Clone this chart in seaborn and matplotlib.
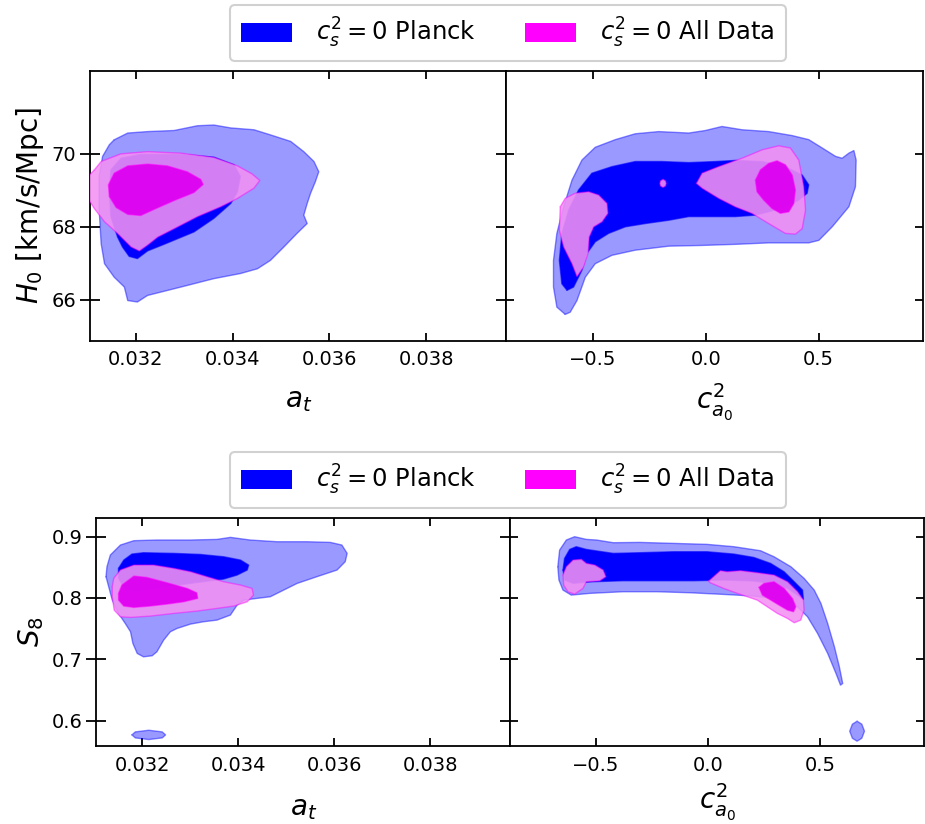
import numpy as np
import matplotlib
matplotlib.use("Agg")
import matplotlib.pyplot as plt
import seaborn as sns
from matplotlib.patches import Patch

sns.set_theme(style="white")
plt.rcParams['font.family'] = ['DejaVu Sans']
plt.rcParams['mathtext.fontset'] = 'dejavusans'
for k in ('text.color', 'axes.labelcolor', 'xtick.color', 'ytick.color', 'axes.edgecolor'):
    plt.rcParams[k] = 'black'

series_labels = [r'$c_s^2=0$ Planck', r'$c_s^2=0$ All Data']
x_labels = [r'$a_t$', r'$c^2_{a_0}$']
y_labels = [r'$H_0$ [km/s/Mpc]', r'$S_8$']
at_ticks = [0.032, 0.034, 0.036, 0.038]
ca_ticks = [-0.5, 0.0, 0.5]
h0_ticks = [66, 68, 70]
s8_ticks = [0.6, 0.7, 0.8, 0.9]

# ---- contour boundaries (x, y) ----
# H0 vs a_t
h0_at_planck_95 = [(0.03155, 70.385), (0.03183, 70.57), (0.03224, 70.61), (0.03279, 70.64), (0.03327, 70.77),
                   (0.03361, 70.79), (0.03396, 70.71), (0.03444, 70.66), (0.03478, 70.52), (0.03520, 70.34),
                   (0.03547, 70.06), (0.03568, 69.79), (0.03578, 69.51), (0.03571, 69.24), (0.03561, 68.92),
                   (0.03554, 68.64), (0.03547, 68.32), (0.03554, 68.09), (0.03533, 67.82), (0.03506, 67.45),
                   (0.03478, 67.08), (0.03451, 66.85), (0.03416, 66.72), (0.03361, 66.58), (0.03293, 66.35),
                   (0.03224, 66.12), (0.03203, 65.94), (0.03183, 65.98), (0.03176, 66.35), (0.03155, 66.62),
                   (0.03135, 66.99), (0.03128, 67.54), (0.03124, 68.46), (0.03124, 69.38), (0.03131, 69.93),
                   (0.03145, 70.25)]
h0_at_planck_68 = [(0.03162, 67.72), (0.03148, 68.28), (0.03145, 68.92), (0.03148, 69.56), (0.03169, 69.88),
                   (0.03210, 69.99), (0.03293, 69.99), (0.03361, 69.91), (0.03403, 69.70), (0.03416, 69.38),
                   (0.03410, 68.96), (0.03396, 68.64), (0.03361, 68.23), (0.03320, 67.86), (0.03258, 67.52),
                   (0.03224, 67.34), (0.03203, 67.13), (0.03186, 67.19), (0.03172, 67.45)]
h0_at_all_95 = [(0.03114, 69.56), (0.03128, 69.79), (0.03169, 70.00), (0.03224, 70.06), (0.03293, 70.02),
                (0.03361, 69.90), (0.03410, 69.67), (0.03440, 69.45), (0.03456, 69.27), (0.03444, 69.06),
                (0.03410, 68.78), (0.03375, 68.55), (0.03327, 68.28), (0.03279, 67.95), (0.03245, 67.72),
                (0.03224, 67.50), (0.03207, 67.34), (0.03190, 67.45), (0.03162, 67.82), (0.03135, 68.14),
                (0.03114, 68.50), (0.03094, 68.92), (0.03094, 69.28)]
h0_at_all_68 = [(0.03145, 68.83), (0.03143, 69.15), (0.03155, 69.47), (0.03183, 69.67), (0.03224, 69.72),
                (0.03265, 69.67), (0.03306, 69.51), (0.03334, 69.30), (0.03339, 69.16), (0.03320, 68.94),
                (0.03279, 68.72), (0.03238, 68.48), (0.03210, 68.31), (0.03183, 68.34), (0.03159, 68.53)]

# H0 vs c^2_a0
h0_ca_planck_95 = [(-0.622, 65.60), (-0.659, 65.80), (-0.674, 66.35), (-0.674, 67.08), (-0.659, 67.82),
                   (-0.629, 68.55), (-0.592, 69.28), (-0.548, 69.83), (-0.489, 70.18), (-0.400, 70.39),
                   (-0.312, 70.55), (-0.208, 70.61), (-0.075, 70.57), (-0.001, 70.64), (0.072, 70.75),
                   (0.161, 70.66), (0.279, 70.61), (0.383, 70.50), (0.456, 70.39), (0.516, 70.16),
                   (0.575, 69.93), (0.604, 69.88), (0.634, 70.02), (0.656, 70.09), (0.666, 69.83),
                   (0.663, 69.10), (0.634, 68.55), (0.560, 68.00), (0.501, 67.63), (0.456, 67.56),
                   (0.279, 67.56), (0.131, 67.52), (-0.016, 67.49), (-0.164, 67.47), (-0.312, 67.36),
                   (-0.415, 67.22), (-0.489, 66.99), (-0.533, 66.62), (-0.570, 65.98), (-0.600, 65.66)]
h0_ca_planck_68 = [(-0.614, 66.26), (-0.637, 66.44), (-0.648, 67.08), (-0.637, 67.82), (-0.607, 68.46),
                   (-0.563, 69.01), (-0.504, 69.47), (-0.415, 69.65), (-0.312, 69.79), (-0.194, 69.79),
                   (-0.075, 69.76), (0.043, 69.79), (0.131, 69.82), (0.250, 69.79), (0.353, 69.65),
                   (0.427, 69.42), (0.456, 69.15), (0.449, 68.92), (0.412, 68.73), (0.353, 68.55),
                   (0.279, 68.41), (0.220, 68.32), (0.131, 68.28), (0.013, 68.28), (-0.075, 68.28),
                   (-0.164, 68.18), (-0.267, 68.09), (-0.356, 68.00), (-0.430, 67.82), (-0.489, 67.59),
                   (-0.526, 67.27), (-0.548, 66.81), (-0.585, 66.35)]
h0_ca_all_95_a = [(-0.644, 68.55), (-0.622, 68.78), (-0.578, 68.92), (-0.518, 68.96), (-0.474, 68.87),
                  (-0.437, 68.64), (-0.433, 68.37), (-0.459, 68.14), (-0.496, 68.00), (-0.516, 67.72),
                  (-0.521, 67.27), (-0.541, 66.90), (-0.570, 66.64), (-0.592, 66.99), (-0.629, 67.45),
                  (-0.648, 67.91)]
h0_ca_all_95_b = [(-0.041, 69.19), (-0.016, 69.47), (0.058, 69.65), (0.161, 69.88), (0.250, 70.11),
                  (0.323, 70.22), (0.375, 70.16), (0.412, 69.83), (0.434, 69.10), (0.442, 68.46),
                  (0.427, 67.95), (0.397, 67.80), (0.353, 67.82), (0.279, 68.09), (0.205, 68.37),
                  (0.131, 68.55), (0.058, 68.78), (-0.016, 69.06)]
h0_ca_all_95_c = [(-0.189, 69.30), (-0.178, 69.26), (-0.175, 69.19), (-0.178, 69.12), (-0.189, 69.08),
                  (-0.200, 69.12), (-0.203, 69.19), (-0.200, 69.26)]
h0_ca_all_68 = [(0.220, 69.28), (0.242, 69.56), (0.279, 69.74), (0.316, 69.81), (0.353, 69.70),
                (0.383, 69.42), (0.397, 69.01), (0.390, 68.64), (0.368, 68.41), (0.331, 68.37),
                (0.294, 68.50), (0.257, 68.73), (0.227, 68.96)]

# S8 vs a_t
s8_at_planck_95 = [(0.03125, 0.8347), (0.03127, 0.8510), (0.03134, 0.8701), (0.03155, 0.8864), (0.03183, 0.8935),
                   (0.03231, 0.8946), (0.03301, 0.8946), (0.03356, 0.8956), (0.03384, 0.8989), (0.03425, 0.8946),
                   (0.03481, 0.8918), (0.03543, 0.8918), (0.03592, 0.8907), (0.03616, 0.8864), (0.03627, 0.8728),
                   (0.03623, 0.8592), (0.03606, 0.8456), (0.03564, 0.8347), (0.03523, 0.8238), (0.03495, 0.8129),
                   (0.03467, 0.8020), (0.03439, 0.7993), (0.03412, 0.7966), (0.03398, 0.7884), (0.03384, 0.7721),
                   (0.03356, 0.7639), (0.03328, 0.7612), (0.03301, 0.7574), (0.03273, 0.7503), (0.03259, 0.7449),
                   (0.03245, 0.7312), (0.03231, 0.7122), (0.03221, 0.7057), (0.03203, 0.7040), (0.03190, 0.7095),
                   (0.03181, 0.7258), (0.03176, 0.7449), (0.03165, 0.7585), (0.03151, 0.7748), (0.03138, 0.7966)]
s8_at_planck_95_island = [(0.03179, 0.5766), (0.03186, 0.5815), (0.03214, 0.5842), (0.03242, 0.5815),
                          (0.03249, 0.5766), (0.03242, 0.5717), (0.03214, 0.5690), (0.03186, 0.5717)]
s8_at_planck_68 = [(0.03151, 0.8483), (0.03162, 0.8619), (0.03179, 0.8717), (0.03203, 0.8739), (0.03266, 0.8728),
                   (0.03321, 0.8711), (0.03370, 0.8673), (0.03405, 0.8619), (0.03422, 0.8537), (0.03419, 0.8456),
                   (0.03398, 0.8374), (0.03370, 0.8309), (0.03301, 0.8238), (0.03231, 0.8156), (0.03183, 0.8102),
                   (0.03162, 0.8173), (0.03151, 0.8320)]
s8_at_all_95 = [(0.03138, 0.8183), (0.03141, 0.8320), (0.03155, 0.8456), (0.03183, 0.8537), (0.03224, 0.8537),
                (0.03266, 0.8483), (0.03301, 0.8428), (0.03335, 0.8347), (0.03370, 0.8265), (0.03405, 0.8211),
                (0.03429, 0.8156), (0.03432, 0.8047), (0.03419, 0.7938), (0.03391, 0.7868), (0.03356, 0.7830),
                (0.03314, 0.7786), (0.03266, 0.7748), (0.03217, 0.7704), (0.03176, 0.7683), (0.03155, 0.7694),
                (0.03142, 0.7802), (0.03138, 0.8020)]
s8_at_all_68 = [(0.03151, 0.8075), (0.03158, 0.8211), (0.03183, 0.8358), (0.03210, 0.8336), (0.03252, 0.8249),
                (0.03294, 0.8156), (0.03314, 0.8085), (0.03316, 0.7993), (0.03287, 0.7938), (0.03252, 0.7900),
                (0.03217, 0.7868), (0.03183, 0.7846), (0.03162, 0.7868), (0.03151, 0.7966)]

# S8 vs c^2_a0
s8_ca_planck_95 = [(-0.669, 0.8510), (-0.661, 0.8782), (-0.631, 0.8946), (-0.594, 0.9000), (-0.542, 0.8956),
                   (-0.497, 0.8946), (-0.422, 0.8902), (-0.303, 0.8907), (-0.154, 0.8891), (-0.004, 0.8875),
                   (0.115, 0.8837), (0.234, 0.8771), (0.294, 0.8673), (0.369, 0.8510), (0.428, 0.8320),
                   (0.473, 0.8129), (0.503, 0.7911), (0.533, 0.7585), (0.563, 0.7204), (0.585, 0.6877),
                   (0.600, 0.6605), (0.590, 0.6578), (0.570, 0.6768), (0.533, 0.7095), (0.488, 0.7421),
                   (0.443, 0.7694), (0.384, 0.7911), (0.294, 0.7993), (0.204, 0.8031), (0.070, 0.8058),
                   (-0.079, 0.8085), (-0.228, 0.8102), (-0.378, 0.8102), (-0.527, 0.8075), (-0.609, 0.8047),
                   (-0.646, 0.8129), (-0.664, 0.8292)]
s8_ca_planck_95_island = [(0.664, 0.5989), (0.685, 0.5941), (0.697, 0.5826), (0.685, 0.5711), (0.664, 0.5663),
                          (0.643, 0.5711), (0.631, 0.5826), (0.643, 0.5941)]
s8_ca_planck_68 = [(-0.646, 0.8456), (-0.639, 0.8646), (-0.616, 0.8793), (-0.587, 0.8837), (-0.542, 0.8793),
                   (-0.422, 0.8728), (-0.303, 0.8739), (-0.154, 0.8755), (-0.004, 0.8755), (0.115, 0.8717),
                   (0.204, 0.8662), (0.279, 0.8564), (0.339, 0.8428), (0.384, 0.8265), (0.421, 0.8129),
                   (0.425, 0.7977), (0.399, 0.8047), (0.354, 0.8156), (0.279, 0.8238), (0.204, 0.8276),
                   (0.070, 0.8292), (-0.064, 0.8281), (-0.213, 0.8281), (-0.378, 0.8281), (-0.512, 0.8265),
                   (-0.601, 0.8238), (-0.639, 0.8292)]
s8_ca_all_95_a = [(-0.646, 0.8374), (-0.631, 0.8510), (-0.601, 0.8619), (-0.564, 0.8630), (-0.542, 0.8564),
                  (-0.504, 0.8537), (-0.467, 0.8456), (-0.455, 0.8347), (-0.482, 0.8281), (-0.542, 0.8265),
                  (-0.557, 0.8156), (-0.594, 0.8064), (-0.624, 0.8102), (-0.643, 0.8211)]
s8_ca_all_95_b = [(0.003, 0.8276), (0.033, 0.8374), (0.055, 0.8445), (0.085, 0.8428), (0.145, 0.8445),
                  (0.219, 0.8412), (0.294, 0.8374), (0.354, 0.8265), (0.399, 0.8102), (0.425, 0.7966),
                  (0.428, 0.7802), (0.413, 0.7639), (0.384, 0.7596), (0.354, 0.7666), (0.309, 0.7748),
                  (0.264, 0.7857), (0.219, 0.7966), (0.145, 0.8058), (0.070, 0.8156), (0.010, 0.8249)]
s8_ca_all_68 = [(0.227, 0.8173), (0.249, 0.8238), (0.294, 0.8265), (0.339, 0.8156), (0.376, 0.7993),
                (0.391, 0.7857), (0.381, 0.7775), (0.354, 0.7802), (0.316, 0.7884), (0.279, 0.7966),
                (0.242, 0.8047)]

# ---- styles ----
PL_OUT = dict(face=(0, 0, 1), alpha=0.40, edge=(0, 0, 1), ealpha=0.45)
PL_IN = dict(face=(0, 0, 1), alpha=1.0, edge=(0, 0, 1), ealpha=0.6)
AD_OUT = dict(face=(243/255, 145/255, 243/255), alpha=0.88, edge=(1, 0, 1), ealpha=0.45)
AD_IN = dict(face=(222/255, 0, 240/255), alpha=0.95, edge=(1, 0, 1), ealpha=0.5)


def region(ax, pts, style, z):
    p = np.asarray(pts, dtype=float)
    ax.fill(p[:, 0], p[:, 1], facecolor=style['face'], alpha=style['alpha'],
            edgecolor='none', zorder=z)
    c = np.vstack([p, p[:1]])
    sns.lineplot(x=c[:, 0], y=c[:, 1], sort=False, estimator=None, ax=ax,
                 color=style['edge'], alpha=style['ealpha'], lw=1.0, zorder=z + 0.5,
                 solid_joinstyle='round')


fig = plt.figure(figsize=(9.25, 8.24), dpi=100)

W, H = 925.0, 824.0
def axrect(x0, x1, y0, y1):
    return [x0 / W, 1 - y1 / H, (x1 - x0) / W, (y1 - y0) / H]

ax_tl = fig.add_axes(axrect(90, 506.5, 71, 340.7))
ax_tr = fig.add_axes(axrect(506.5, 923, 71, 340.7))
ax_bl = fig.add_axes(axrect(96.4, 510, 517.7, 746.3))
ax_br = fig.add_axes(axrect(510, 924, 517.7, 746.3))

panels = [
    (ax_tl, [h0_at_planck_95], [h0_at_planck_68], [h0_at_all_95], [h0_at_all_68]),
    (ax_tr, [h0_ca_planck_95], [h0_ca_planck_68], [h0_ca_all_95_a, h0_ca_all_95_b, h0_ca_all_95_c], [h0_ca_all_68]),
    (ax_bl, [s8_at_planck_95, s8_at_planck_95_island], [s8_at_planck_68], [s8_at_all_95], [s8_at_all_68]),
    (ax_br, [s8_ca_planck_95, s8_ca_planck_95_island], [s8_ca_planck_68], [s8_ca_all_95_a, s8_ca_all_95_b], [s8_ca_all_68]),
]
for ax, p95, p68, a95, a68 in panels:
    for pts in p95:
        region(ax, pts, PL_OUT, 1)
    for pts in p68:
        region(ax, pts, PL_IN, 2)
    for pts in a95:
        region(ax, pts, AD_OUT, 3)
    for pts in a68:
        region(ax, pts, AD_IN, 4)

for ax in (ax_tl, ax_bl):
    ax.set_xlim(0.03105, 0.03966)
    ax.set_xticks(at_ticks)
for ax in (ax_tr, ax_br):
    ax.set_xlim(-0.882, 0.962)
    ax.set_xticks(ca_ticks)
for ax in (ax_tl, ax_tr):
    ax.set_ylim(64.88, 72.27)
    ax.set_yticks(h0_ticks)
for ax in (ax_bl, ax_br):
    ax.set_ylim(0.558, 0.931)
    ax.set_yticks(s8_ticks)

for ax in (ax_tl, ax_tr, ax_bl, ax_br):
    for s in ax.spines.values():
        s.set_color('black')
        s.set_linewidth(1.3)
    ax.tick_params(axis='both', which='both', direction='in', length=6, width=1.3,
                   top=True, right=True, bottom=True, left=True, labelsize=14,
                   colors='black', pad=7)

for ax in (ax_tl, ax_bl):
    ax.tick_params(axis='y', direction='inout', length=14, pad=3)
for ax in (ax_tr, ax_br):
    ax.tick_params(axis='y', labelleft=False)

ax_tl.set_xlabel(x_labels[0], fontsize=20, labelpad=12)
ax_bl.set_xlabel(x_labels[0], fontsize=20, labelpad=14)
ax_tr.set_xlabel(x_labels[1], fontsize=20, labelpad=9)
ax_br.set_xlabel(x_labels[1], fontsize=20, labelpad=5)
ax_tl.set_ylabel(y_labels[0], fontsize=20, labelpad=4)
ax_bl.set_ylabel(y_labels[1], fontsize=20, labelpad=4)

handles = [Patch(facecolor=(0, 0, 1), edgecolor='none'),
           Patch(facecolor=(1, 0, 1), edgecolor='none')]
for yc in (1 - 33 / H, 1 - 480 / H):
    leg = fig.legend(handles, series_labels, loc='center', bbox_to_anchor=(0.549, yc),
                     ncol=2, fontsize=17.5, frameon=True, fancybox=True,
                     handlelength=2.1, handleheight=0.85, handletextpad=1.0,
                     columnspacing=2.0, borderpad=0.45)
    leg.get_frame().set_edgecolor('0.82')
    leg.get_frame().set_linewidth(1.5)
    leg.get_frame().set_facecolor('white')
    leg.get_frame().set_alpha(1.0)

fig.savefig('out.png', dpi=100)
